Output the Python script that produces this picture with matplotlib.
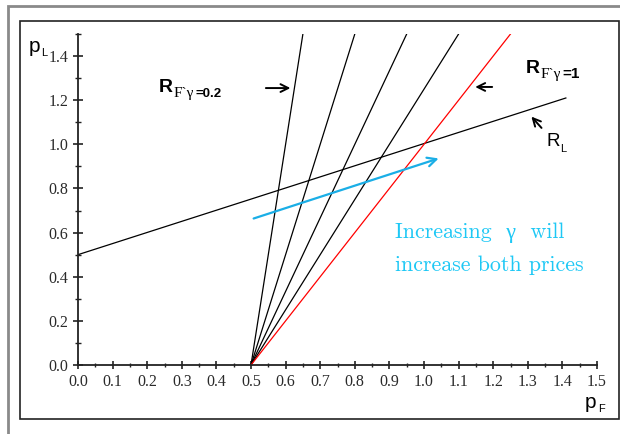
import matplotlib.pyplot as plt
from matplotlib.patches import Rectangle
from matplotlib.ticker import MultipleLocator

# reaction curves
gammas = [0.2, 0.4, 0.6, 0.8, 1.0]
rf_start_pf, rf_start_pl = 0.5, 0.0
rf_top_pf = [0.65, 0.80, 0.95, 1.10, 1.25]   # pF where R_F reaches pL = 1.5
rf_top_pl = 1.5
rl_pf = [0.0, 1.41]
rl_pl = [0.5, 1.21]

# blue "increase" arrow
arrow_from = (0.50, 0.66)
arrow_to = (1.05, 0.94)

W, H = 620, 434
fig = plt.figure(figsize=(W / 100, H / 100), dpi=100)
fig.patch.set_facecolor("white")


def px(x, y):
    return x / W, 1 - y / H


# frames
fig.patches.append(Rectangle(px(8, 440), 640 / W, 434 / H, transform=fig.transFigure,
                             fill=False, edgecolor="#8a8a8a", linewidth=2.0))
fig.patches.append(Rectangle(px(20, 419), 599 / W, 398 / H, transform=fig.transFigure,
                             fill=False, edgecolor="#222222", linewidth=1.2))

ax = fig.add_axes([78 / W, 69 / H, 519 / W, 331 / H])
ax.set_xlim(0, 1.5)
ax.set_ylim(0, 1.5)
for s in ["top", "right"]:
    ax.spines[s].set_visible(False)
for s in ["left", "bottom"]:
    ax.spines[s].set_color("#222222")
    ax.spines[s].set_linewidth(1.3)
ax.patch.set_alpha(0)

ax.xaxis.set_major_locator(MultipleLocator(0.1))
ax.xaxis.set_minor_locator(MultipleLocator(0.05))
ax.yaxis.set_major_locator(MultipleLocator(0.2))
ax.yaxis.set_minor_locator(MultipleLocator(0.1))
ax.xaxis.set_major_formatter(lambda v, p: f"{v:.1f}")
ax.yaxis.set_major_formatter(lambda v, p: f"{v:.1f}")
ax.tick_params(axis="x", which="major", direction="inout", length=5.5, width=1.2,
               color="#222222", pad=4)
ax.tick_params(axis="x", which="minor", direction="inout", length=2.8, width=1.0,
               color="#222222")
ax.tick_params(axis="y", which="major", direction="inout", length=7.5, width=1.2,
               color="#222222", pad=3)
ax.tick_params(axis="y", which="minor", direction="inout", length=3.8, width=1.0,
               color="#222222")
for lab in ax.get_xticklabels() + ax.get_yticklabels():
    lab.set_fontfamily("Liberation Serif")
    lab.set_fontsize(11.5)
    lab.set_color("#2a2a2a")

# curves
ax.plot(rl_pf, rl_pl, color="black", linewidth=0.9)
for g, top in zip(gammas, rf_top_pf):
    ax.plot([rf_start_pf, top], [rf_start_pl, rf_top_pl],
            color="red" if g == 1.0 else "black", linewidth=0.9)

ax.annotate("", xy=arrow_to, xytext=arrow_from,
            arrowprops=dict(arrowstyle="->", color="#1aaee6", lw=1.6, mutation_scale=16))

# label arrows
black_arrow = dict(arrowstyle="->", color="black", lw=1.4, mutation_scale=14)
ax.annotate("", xy=(0.622, 1.255), xytext=(0.535, 1.255), arrowprops=black_arrow)
ax.annotate("", xy=(1.140, 1.26), xytext=(1.205, 1.26), arrowprops=black_arrow)
ax.annotate("", xy=(1.305, 1.135), xytext=(1.345, 1.065), arrowprops=black_arrow)

serif = ["Liberation Serif", "DejaVu Serif"]
sans = "Liberation Sans"

# R_F gamma = 0.2
fig.text(*px(159, 92), "R", family=sans, weight="bold", fontsize=14, va="baseline")
fig.text(*px(174, 97), "F`γ", family=serif, fontsize=11, va="baseline")
fig.text(*px(195, 97), "=0.2", family=sans, weight="bold", fontsize=9.5, va="baseline")

# R_F gamma = 1
fig.text(*px(526, 73), "R", family=sans, weight="bold", fontsize=14, va="baseline")
fig.text(*px(541, 78), "F`γ", family=serif, fontsize=11, va="baseline")
fig.text(*px(562, 78), "=1", family=sans, weight="bold", fontsize=11, va="baseline")

# R_L
fig.text(*px(546, 146), "R", family=sans, fontsize=13.5, va="baseline")
fig.text(*px(560, 152), "L", family=sans, fontsize=8, va="baseline")

# axis labels
fig.text(*px(29, 52), "p", family=sans, fontsize=15, va="baseline")
fig.text(*px(41, 56), "L", family=sans, fontsize=8, va="baseline")
fig.text(*px(585, 408), "p", family=sans, fontsize=15, va="baseline")
fig.text(*px(598, 412), "F", family=sans, fontsize=8, va="baseline")

# cyan note
cyan = "#1ec8f5"
note_font = ["cmr10", "Liberation Serif"]
fig.text(*px(395, 238), "Increasing  γ  will", family=note_font, fontsize=15.8,
         color=cyan, va="baseline")
fig.text(*px(395, 271), "increase both prices", family=note_font, fontsize=15.8,
         color=cyan, va="baseline")

fig.savefig("out.png", dpi=100)
